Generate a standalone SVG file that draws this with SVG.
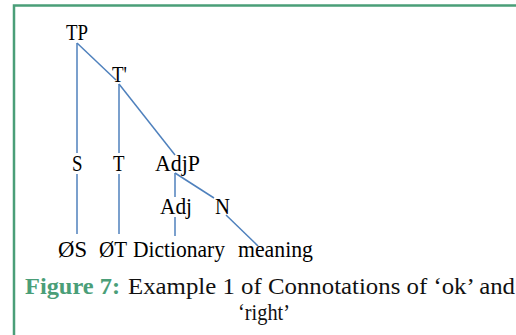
<svg xmlns="http://www.w3.org/2000/svg" width="516" height="335" viewBox="0 0 516 335">
<style>
.lbl{font-family:"Liberation Serif","Times New Roman",serif;font-size:22.5px;fill:#000}
.cap{font-family:"Liberation Serif","Times New Roman",serif;font-size:24px;fill:#111}
.fig{font-weight:bold;fill:#4a9e78}
.edge{stroke:#4f81bd;stroke-width:1.5;fill:none}
</style>
<rect width="516" height="335" fill="#fff"/>
<g id="frame" fill="none" stroke="#4a9e78" stroke-width="2.5">
<path d="M14 335 V5.5 H516"/>
</g>
<g id="connectors">
<line class="edge" x1="77" y1="43" x2="116" y2="80"/>
<line class="edge" x1="119" y1="84" x2="175" y2="155"/>
<line class="edge" x1="77" y1="43" x2="77" y2="153"/>
<line class="edge" x1="77" y1="174" x2="77" y2="234"/>
<line class="edge" x1="119" y1="84" x2="119" y2="153"/>
<line class="edge" x1="119" y1="174" x2="119" y2="234"/>
<line class="edge" x1="175" y1="173" x2="175" y2="197"/>
<line class="edge" x1="175" y1="173" x2="214" y2="198"/>
<line class="edge" x1="175" y1="217" x2="175" y2="236"/>
<line class="edge" x1="226" y1="215" x2="258" y2="246"/>
</g>
<g id="TP"><text class="lbl" x="66" y="40" textLength="22" lengthAdjust="spacingAndGlyphs">TP</text></g>
<g id="Tbar"><text class="lbl" x="112" y="82" textLength="15" lengthAdjust="spacingAndGlyphs">T'</text></g>
<g id="S"><text class="lbl" x="72" y="171" textLength="10.5" lengthAdjust="spacingAndGlyphs">S</text></g>
<g id="T"><text class="lbl" x="113" y="171" textLength="11.5" lengthAdjust="spacingAndGlyphs">T</text></g>
<g id="AdjP"><text class="lbl" x="155" y="171" textLength="45" lengthAdjust="spacingAndGlyphs">AdjP</text></g>
<g id="Adj"><text class="lbl" x="160" y="214" textLength="32" lengthAdjust="spacingAndGlyphs">Adj</text></g>
<g id="N"><text class="lbl" x="215" y="214" textLength="15" lengthAdjust="spacingAndGlyphs">N</text></g>
<g id="OS"><text class="lbl" x="58" y="257" textLength="29" lengthAdjust="spacingAndGlyphs">ØS</text></g>
<g id="OT"><text class="lbl" x="99" y="257" textLength="28" lengthAdjust="spacingAndGlyphs">ØT</text></g>
<g id="Dictionary"><text class="lbl" x="133" y="257" textLength="92" lengthAdjust="spacingAndGlyphs">Dictionary</text></g>
<g id="meaning"><text class="lbl" x="238" y="257" textLength="75" lengthAdjust="spacingAndGlyphs">meaning</text></g>
<g id="caption">
<text class="cap fig" x="25" y="294" textLength="95" lengthAdjust="spacingAndGlyphs">Figure 7:</text>
<text class="cap" x="128" y="294" textLength="387" lengthAdjust="spacingAndGlyphs">Example 1 of Connotations of ‘ok’ and</text>
<text class="cap" x="238" y="320" textLength="52" lengthAdjust="spacingAndGlyphs">‘right’</text>
</g>
</svg>
